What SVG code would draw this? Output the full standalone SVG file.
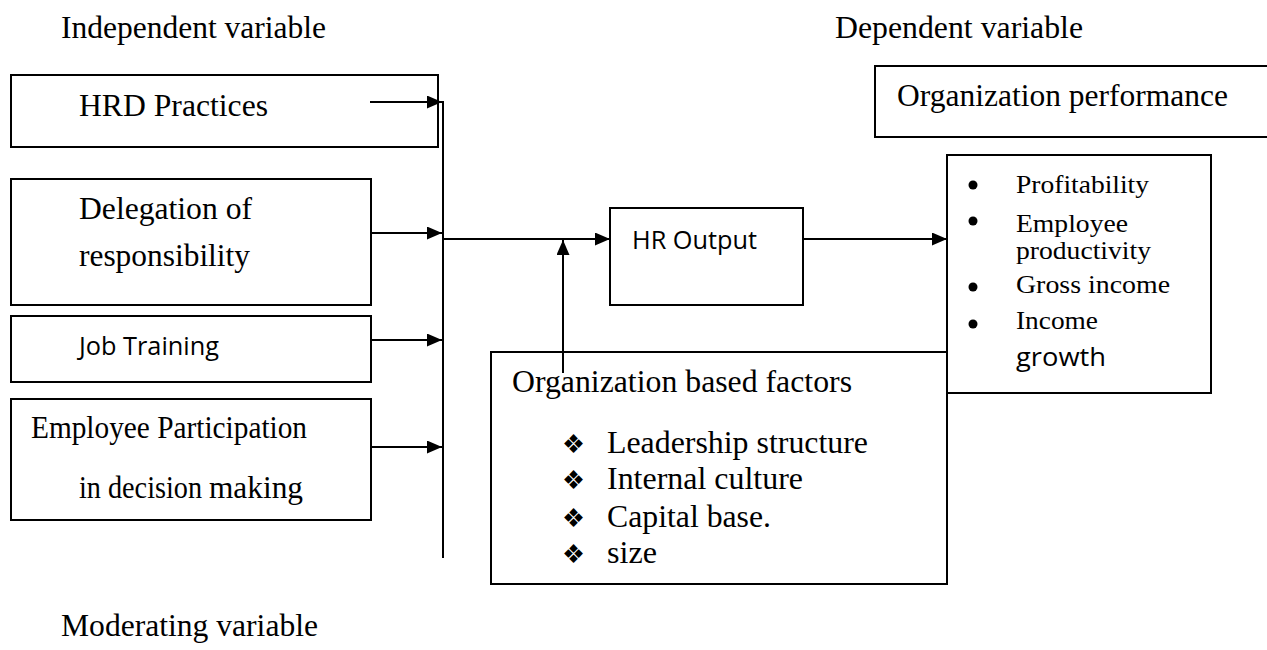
<svg xmlns="http://www.w3.org/2000/svg" width="1267" height="650" viewBox="0 0 1267 650">
<defs>
<style>
.box{fill:#fff;stroke:#000;stroke-width:2}
.ln{fill:none;stroke:#000;stroke-width:2}
.t{font-family:"Liberation Serif","Times New Roman",serif;fill:#000;font-size:31.5px}
.s{font-family:"Open Sans","Liberation Sans",sans-serif;fill:#000;font-size:26px}
.d{font-family:"DejaVu Sans",sans-serif;fill:#000;font-size:26px}
.sm{font-size:26px}
</style>
<marker id="ah" viewBox="0 0 15 13" refX="15" refY="6.5" markerWidth="15" markerHeight="13" markerUnits="userSpaceOnUse" orient="auto">
<path d="M0,0 L15,6.5 L0,13 Z" fill="#000"/>
</marker>
</defs>
<rect width="1267" height="650" fill="#fff"/>
<g id="titles">
<text class="t" x="61" y="38" textLength="265" lengthAdjust="spacingAndGlyphs">Independent variable</text>
<text class="t" x="835" y="38" textLength="248" lengthAdjust="spacingAndGlyphs">Dependent variable</text>
<text class="t" x="61" y="636" textLength="257" lengthAdjust="spacingAndGlyphs">Moderating variable</text>
</g>
<g id="hrd">
<rect class="box" x="11" y="75" width="427" height="72"/>
<text class="t" x="79" y="116" textLength="189" lengthAdjust="spacingAndGlyphs">HRD Practices</text>
</g>
<g id="delegation">
<rect class="box" x="11" y="179" width="360" height="126"/>
<text class="t" x="79" y="219" textLength="173" lengthAdjust="spacingAndGlyphs">Delegation of</text>
<text class="t" x="79" y="266" textLength="171" lengthAdjust="spacingAndGlyphs">responsibility</text>
</g>
<g id="jobtraining">
<rect class="box" x="11" y="316" width="360" height="66"/>
<text class="s" x="79" y="355" textLength="140" lengthAdjust="spacingAndGlyphs">Job Training</text>
</g>
<g id="participation">
<rect class="box" x="11" y="399" width="360" height="121"/>
<text class="t" x="31" y="438" font-size="29" textLength="276" lengthAdjust="spacingAndGlyphs">Employee Participation</text>
<text class="t" x="79" y="498" font-size="28.5" textLength="123" lengthAdjust="spacingAndGlyphs">in decision</text>
<text class="t" x="209" y="498" textLength="94" lengthAdjust="spacingAndGlyphs">making</text>
</g>
<g id="hroutput">
<rect class="box" x="610" y="208" width="193" height="97"/>
<text class="s" x="632" y="249" textLength="125" lengthAdjust="spacingAndGlyphs">HR Output</text>
</g>
<g id="orgperf">
<rect class="box" x="875" y="66" width="400" height="71"/>
<text class="t" x="897" y="106" textLength="331" lengthAdjust="spacingAndGlyphs">Organization performance</text>
</g>
<g id="outcomes">
<rect class="box" x="947" y="155" width="264" height="238"/>
<circle cx="973" cy="185" r="4.5"/>
<circle cx="973" cy="221" r="4.5"/>
<circle cx="973" cy="287" r="4.5"/>
<circle cx="973" cy="324" r="4.5"/>
<text class="t sm" x="1016" y="193" textLength="133" lengthAdjust="spacingAndGlyphs">Profitability</text>
<text class="t sm" x="1016" y="232" textLength="112" lengthAdjust="spacingAndGlyphs">Employee</text>
<text class="t sm" x="1016" y="259" textLength="135" lengthAdjust="spacingAndGlyphs">productivity</text>
<text class="t sm" x="1016" y="293" textLength="154" lengthAdjust="spacingAndGlyphs">Gross income</text>
<text class="t sm" x="1016" y="329" textLength="82" lengthAdjust="spacingAndGlyphs">Income</text>
<text class="s" x="1016" y="366" font-size="28" textLength="90" lengthAdjust="spacingAndGlyphs">growth</text>
</g>
<g id="orgfactors">
<rect class="box" x="491" y="352" width="456" height="232"/>
<text class="t" x="512" y="392" textLength="340" lengthAdjust="spacingAndGlyphs">Organization based factors</text>
<text class="d" x="562" y="453" textLength="23" lengthAdjust="spacingAndGlyphs">❖</text>
<text class="d" x="562" y="489" textLength="23" lengthAdjust="spacingAndGlyphs">❖</text>
<text class="d" x="562" y="527" textLength="23" lengthAdjust="spacingAndGlyphs">❖</text>
<text class="d" x="562" y="563" textLength="23" lengthAdjust="spacingAndGlyphs">❖</text>
<text class="t" x="607" y="453" textLength="261" lengthAdjust="spacingAndGlyphs">Leadership structure</text>
<text class="t" x="607" y="489" textLength="196" lengthAdjust="spacingAndGlyphs">Internal culture</text>
<text class="t" x="607" y="527" textLength="164" lengthAdjust="spacingAndGlyphs">Capital base.</text>
<text class="t" x="607" y="563" textLength="50" lengthAdjust="spacingAndGlyphs">size</text>
</g>
<g id="connectors">
<line class="ln" x1="443" y1="101" x2="443" y2="558"/>
<line class="ln" x1="370" y1="102" x2="442" y2="102" marker-end="url(#ah)"/>
<line class="ln" x1="371" y1="233" x2="442" y2="233" marker-end="url(#ah)"/>
<line class="ln" x1="371" y1="340" x2="442" y2="340" marker-end="url(#ah)"/>
<line class="ln" x1="371" y1="447" x2="442" y2="447" marker-end="url(#ah)"/>
<line class="ln" x1="443" y1="239" x2="610" y2="239" marker-end="url(#ah)"/>
<line class="ln" x1="563" y1="373" x2="563" y2="240" marker-end="url(#ah)"/>
<line class="ln" x1="803" y1="239" x2="947" y2="239" marker-end="url(#ah)"/>
</g>
</svg>
